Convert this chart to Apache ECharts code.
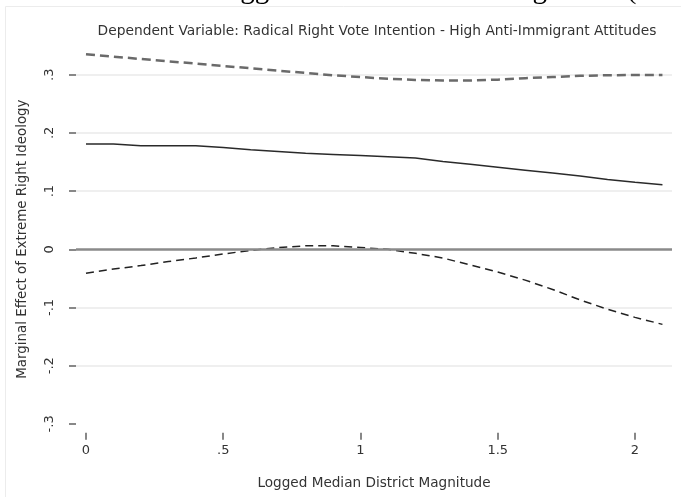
<!DOCTYPE html>
<html><head><meta charset="utf-8">
<script src="https://cdn.jsdelivr.net/npm/echarts@6/dist/echarts.min.js"></script>
<style>html,body{margin:0;padding:0;background:#fff}#c{width:681px;height:497px}</style>
</head><body><div id="c"></div>
<script>
const xValues = [0,0.1,0.2,0.3,0.4,0.5,0.6,0.7,0.8,0.9,1.0,1.1,1.2,1.3,1.4,1.5,1.6,1.7,1.8,1.9,2.0,2.1];
const upperBound = [0.335,0.331,0.327,0.323,0.319,0.315,0.311,0.307,0.303,0.299,0.296,0.293,0.291,0.290,0.290,0.2915,0.294,0.296,0.298,0.299,0.2995,0.2995];
const estimate = [0.181,0.181,0.178,0.178,0.178,0.175,0.171,0.168,0.165,0.163,0.161,0.159,0.157,0.151,0.146,0.141,0.136,0.131,0.126,0.120,0.115,0.111];
const lowerBound = [-0.041,-0.034,-0.028,-0.021,-0.015,-0.008,-0.002,0.003,0.006,0.006,0.003,0.000,-0.007,-0.015,-0.027,-0.039,-0.053,-0.069,-0.087,-0.103,-0.117,-0.129];
const xTickValues = [0,0.5,1,1.5,2];
const xTickLabels = ['0','.5','1','1.5','2'];
const yTickValues = [-0.3,-0.2,-0.1,0,0.1,0.2,0.3];
const yTickLabels = ['-.3','-.2','-.1','0','.1','.2','.3'];
const yGridValues = [-0.2,-0.1,0.1,0.2,0.3];
const titleText = 'Dependent Variable: Radical Right Vote Intention - High Anti-Immigrant Attitudes';
const xTitle = 'Logged Median District Magnitude';
const yTitle = 'Marginal Effect of Extreme Right Ideology';
const pageCaption = 'Logged Median District Magnitude (';

function lab(vals, labs) {
  return function (v) {
    for (let i = 0; i < vals.length; i++) if (Math.abs(vals[i] - v) < 1e-6) return labs[i];
    return '';
  };
}
const pairs = arr => xValues.map((x, i) => [x, arr[i]]);
const FONT = 'DejaVu Sans';
const chart = echarts.init(document.getElementById('c'), null, {renderer: 'canvas'});
chart.setOption({
  animation: false,
  backgroundColor: '#fff',
  grid: {left: 76, right: 9, top: 48.5, bottom: 67.3},
  graphic: [
    {type: 'text', x: 208, y: 5, silent: true, style: {text: pageCaption, font: '29px "Liberation Serif"', fill: '#000', textAlign: 'left', textVerticalAlign: 'bottom'}},
    {type: 'rect', shape: {x: 5.5, y: 6.5, width: 700, height: 520}, style: {fill: '#fff', stroke: '#ececec', lineWidth: 1}, silent: true, z: -10},
    {type: 'text', x: 377, y: 31, style: {text: titleText, font: '13.8px "DejaVu Sans"', fill: '#333', textAlign: 'center', textVerticalAlign: 'middle'}}
  ],
  xAxis: {
    type: 'value', min: -0.0364, max: 2.1348, offset: 3,
    axisLine: {show: false, onZero: false},
    axisTick: {show: true, customValues: xTickValues, length: 7, lineStyle: {color: '#888', width: 2}},
    axisLabel: {customValues: xTickValues, formatter: lab(xTickValues, xTickLabels), margin: 11, fontSize: 13, fontFamily: FONT, color: '#333'},
    splitLine: {show: false},
    name: xTitle, nameLocation: 'middle', nameGap: 44,
    nameTextStyle: {fontSize: 13.6, fontFamily: FONT, color: '#333'}
  },
  yAxis: [{
    type: 'value', min: -0.31, max: 0.345, position: 'left',
    axisLine: {show: false, onZero: false},
    axisTick: {show: true, customValues: yTickValues, length: 7, lineStyle: {color: '#888', width: 2}},
    axisLabel: {customValues: yTickValues, formatter: lab(yTickValues, yTickLabels), rotate: 90, margin: 20, fontSize: 13, fontFamily: FONT, color: '#333'},
    splitLine: {show: false},
    name: yTitle, nameLocation: 'middle', nameGap: 47, nameRotate: 90,
    nameTextStyle: {fontSize: 13.4, fontFamily: FONT, color: '#333'}
  }, {
    type: 'value', min: -0.31, max: 0.345, position: 'left',
    axisLine: {show: false, onZero: false},
    axisTick: {show: false, customValues: yGridValues},
    axisLabel: {show: false, customValues: yGridValues},
    splitLine: {show: true, lineStyle: {color: '#efefef', width: 2}}
  }],
  series: [
    {type: 'line', name: 'upper', data: pairs(upperBound), showSymbol: false, clip: false, z: 3,
     lineStyle: {color: '#6a6a6a', width: 2.5, type: [9, 5]}},
    {type: 'line', name: 'estimate', data: pairs(estimate), showSymbol: false, clip: false, z: 3,
     lineStyle: {color: '#2a2a2a', width: 1.5},
     markLine: {silent: true, symbol: 'none', label: {show: false}, data: [{yAxis: 0}],
       lineStyle: {color: '#8a8a8a', width: 2.5, type: 'solid'}}},
    {type: 'line', name: 'lower', data: pairs(lowerBound), showSymbol: false, clip: false, z: 4,
     lineStyle: {color: '#222', width: 1.5, type: [8, 5]}}
  ]
});
</script></body></html>
